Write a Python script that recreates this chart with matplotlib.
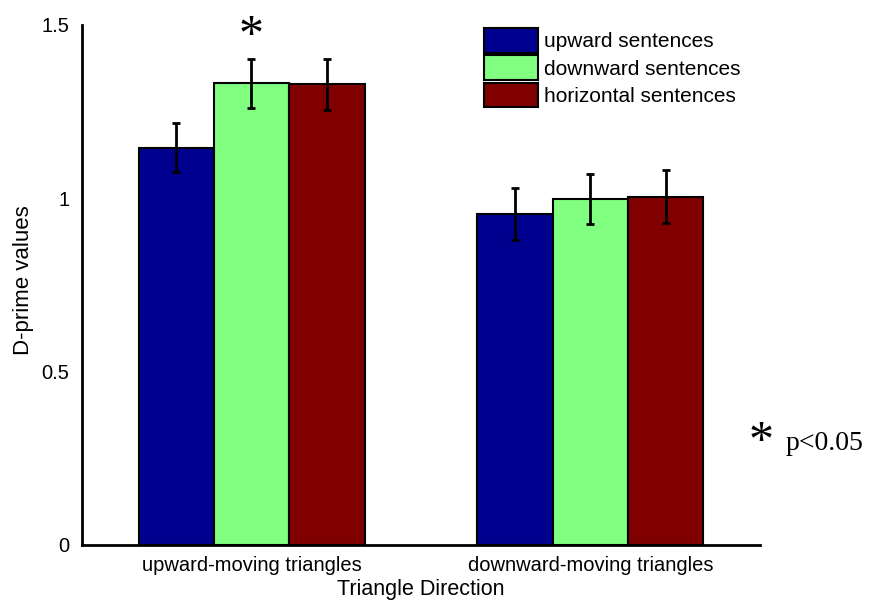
import matplotlib.pyplot as plt
import numpy as np

groups = ["upward-moving triangles", "downward-moving triangles"]
series = ["upward sentences", "downward sentences", "horizontal sentences"]
colors = ["#00008f", "#80ff80", "#800000"]
values = [[1.146, 0.955],
          [1.332, 0.998],
          [1.329, 1.005]]
errors = [[0.071, 0.076],
          [0.070, 0.072],
          [0.073, 0.076]]

plt.rcParams['font.family'] = ['Liberation Sans', 'DejaVu Sans']

fig = plt.figure(figsize=(8.7, 6.05), dpi=100)
ax = fig.add_axes([82/870, 60/605, (760-82)/870, (545-25)/605])

x = np.arange(1, len(groups)+1)
w = 2.0/9
for i in range(3):
    pos = x + (i-1)*w
    ax.bar(pos, values[i], w, color=colors[i], edgecolor='black', linewidth=1.5,
           label=series[i], zorder=2)
    ax.errorbar(pos, values[i], yerr=errors[i], fmt='none', ecolor='black',
                elinewidth=2, capsize=3, capthick=2, zorder=3)

ax.set_xlim(0.5, 2.5)
ax.set_ylim(0, 1.5)
ax.set_xticks(x)
ax.set_xticklabels(groups, fontsize=14.5)
ax.set_yticks([0, 0.5, 1, 1.5])
ax.set_yticklabels(["0", "0.5", "1", "1.5"], fontsize=14.5)
ax.tick_params(axis='y', length=0, pad=9)
ax.tick_params(axis='x', length=0, pad=8)
for s in ['top', 'right']:
    ax.spines[s].set_visible(False)
for s in ['left', 'bottom']:
    ax.spines[s].set_linewidth(2)
ax.set_xlabel("Triangle Direction", fontsize=15.5, labelpad=3)
ax.set_ylabel("D-prime values", fontsize=16)
ax.yaxis.set_label_coords((34-82)/678, 0.51)

ax.legend(loc='upper left', bbox_to_anchor=(0.565, 1.03), frameon=False, fontsize=15,
          handlelength=2.6, handleheight=1.45, handletextpad=0.3, labelspacing=0.12)

ax.text(1.0, 1.465, "*", fontsize=36, family='Liberation Serif', ha='center', va='center')
fig.text(749/870, 1-443/605, "*", fontsize=36, family='Liberation Serif', ha='left', va='center')
fig.text(786/870, 1-444/605, "p<0.05", fontsize=20, family='Liberation Serif', ha='left', va='center')

fig.savefig("out.png", dpi=100)
